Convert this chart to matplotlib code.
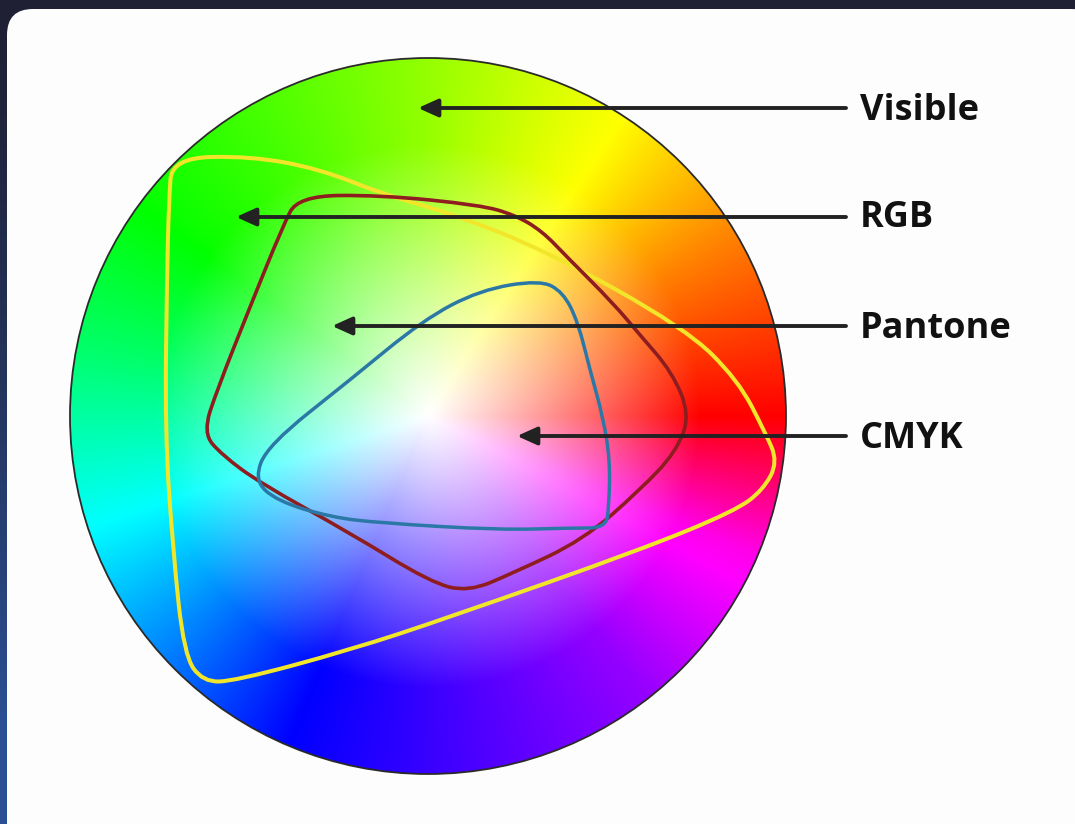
import numpy as np
import matplotlib
matplotlib.use("Agg")
import matplotlib.pyplot as plt
from matplotlib.colors import hsv_to_rgb
from matplotlib.patches import Circle, FancyBboxPatch, PathPatch
from matplotlib.path import Path

# ---- data (pixel coordinates, y downwards) ----
labels = ["Visible", "RGB", "Pantone", "CMYK"]
arrow_y = [108, 217, 326, 436]
arrow_tip_x = [418, 236, 332, 517]
label_baseline = [120, 227, 338, 448]

# colour wheel: centre, radius, and angle -> hue anchors
wheel_cx, wheel_cy, wheel_r = 428, 416, 358
angle_anchor = [0, 30, 57, 90, 142, 169, 194, 247, 308, 337, 360]
hue_anchor = [0, 30, 60, 85, 118, 145, 175, 240, 275, 305, 360]

# gamut outlines (control points)
yellow_pts = [(172, 158), (250, 156), (320, 169), (385, 195), (450, 213), (545, 250),
              (685, 328), (738, 380), (765, 432), (778, 462), (763, 490), (735, 511),
              (640, 550), (450, 617), (350, 650), (235, 681), (203, 682), (184, 655),
              (173, 550), (165, 433), (167, 273), (169, 200)]
red_pts = [(298, 196), (380, 195), (480, 205), (515, 215), (542, 231), (567, 257),
           (613, 303), (640, 335), (672, 372), (690, 415), (676, 452), (640, 490),
           (583, 540), (513, 573), (468, 592), (430, 582), (350, 533), (260, 483),
           (222, 455), (203, 433), (217, 390), (250, 307), (282, 228)]
blue_pts = [(254, 480), (268, 445), (350, 380), (423, 320), (480, 290), (540, 280),
            (563, 292), (578, 322), (590, 370), (603, 417), (610, 460), (609, 505),
            (606, 528), (570, 528), (500, 530), (380, 523), (330, 517), (277, 501)]


def smooth_closed(pts):
    # closed quadratic B-spline: curve through edge midpoints, points as controls
    p = np.array(pts, dtype=float)
    mids = (p + np.roll(p, -1, axis=0)) / 2
    verts = [mids[-1]]
    codes = [Path.MOVETO]
    for i in range(len(p)):
        verts += [p[i], mids[i]]
        codes += [Path.CURVE3, Path.CURVE3]
    return Path(verts, codes)


W, H = 1075, 824
fig = plt.figure(figsize=(W / 100, H / 100), dpi=100)
ax = fig.add_axes([0, 0, 1, 1])
ax.set_xlim(0, W)
ax.set_ylim(H, 0)
ax.axis("off")

# dark background, bluer towards the bottom-left
gy, gx = np.mgrid[0:H:4, 0:W:4]
t = np.clip((gy / H) ** 1.3 * (1 - gx / W) ** 2 * 1.2, 0, 1)[..., None]
top = np.array([0x1f, 0x20, 0x34]) / 255
bot = np.array([0x2a, 0x4f, 0x92]) / 255
ax.imshow(top * (1 - t) + bot * t, extent=(0, W, H, 0), zorder=0)

# white card
card = FancyBboxPatch((7, 9), 1090, 860, boxstyle="round,pad=0,rounding_size=26",
                      fc="#fdfdfd", ec="none", zorder=1)
ax.add_patch(card)

# colour wheel image
n = 600
yy, xx = np.mgrid[0:n, 0:n]
dx = (xx + 0.5) / n * 2 - 1
dy = -((yy + 0.5) / n * 2 - 1)
rr = np.hypot(dx, dy)
ang = np.degrees(np.arctan2(dy, dx)) % 360
hue = (np.interp(ang, angle_anchor, hue_anchor) % 360) / 360
sat = np.clip(rr / 0.76, 0, 1) ** 1.05
hsv = np.dstack([hue, sat, np.ones_like(hue)])
rgb = hsv_to_rgb(hsv)
im = ax.imshow(rgb, extent=(wheel_cx - wheel_r, wheel_cx + wheel_r,
                            wheel_cy + wheel_r, wheel_cy - wheel_r),
               zorder=2, interpolation="bilinear")
clip = Circle((wheel_cx, wheel_cy), wheel_r, transform=ax.transData)
im.set_clip_path(clip)
ax.add_patch(Circle((wheel_cx, wheel_cy), wheel_r, fc="none", ec="#2a2a2a",
                    lw=1.3, zorder=3))

# gamut outlines
for pts, col, lw in [(yellow_pts, "#f2e62a", 2.9),
                     (red_pts, "#8e1d1f", 2.6),
                     (blue_pts, "#2b78a6", 2.5)]:
    ax.add_patch(PathPatch(smooth_closed(pts), fc="none", ec=col, lw=lw, zorder=4))

# arrows and labels
for lab, y, tx, by in zip(labels, arrow_y, arrow_tip_x, label_baseline):
    ax.annotate("", xy=(tx, y), xytext=(846, y),
                arrowprops=dict(arrowstyle="-|>,head_length=1.0,head_width=0.45",
                                mutation_scale=12, lw=2.8, color="#222222",
                                shrinkA=0, shrinkB=0), zorder=5)
    ax.text(860, by, lab, fontsize=26, fontweight="bold", family="Open Sans",
            color="#111111", ha="left", va="baseline", zorder=5)

fig.savefig("out.png", dpi=100)
